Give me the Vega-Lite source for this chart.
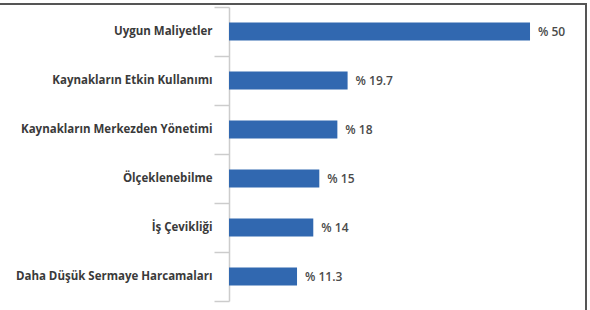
{
  "$schema": "https://vega.github.io/schema/vega-lite/v6.json",
  "width": 588,
  "height": 308,
  "autosize": "none",
  "padding": {"left": -2, "top": 4, "right": 4, "bottom": -2},
  "background": "white",
  "config": {
    "view": {"stroke": "#555555", "strokeWidth": 2},
    "font": "Open Sans"
  },
  "data": {
    "values": [
      {"cat": "Uygun Maliyetler", "v": 50, "txt": "% 50"},
      {"cat": "Kaynakların Etkin Kullanımı", "v": 19.7, "txt": "% 19.7"},
      {"cat": "Kaynakların Merkezden Yönetimi", "v": 18, "txt": "% 18"},
      {"cat": "Ölçeklenebilme", "v": 15, "txt": "% 15"},
      {"cat": "İş Çevikliği", "v": 14, "txt": "% 14"},
      {"cat": "Daha Düşük Sermaye Harcamaları", "v": 11.3, "txt": "% 11.3"}
    ]
  },
  "encoding": {
    "y": {
      "field": "cat",
      "type": "nominal",
      "sort": null,
      "scale": {"range": [3, 297], "paddingInner": 0, "paddingOuter": 0},
      "axis": {
        "title": null,
        "offset": -231,
        "tickBand": "extent",
        "tickSize": 15,
        "tickColor": "#cccccc",
        "tickWidth": 1.5,
        "domainColor": "#cccccc",
        "domainWidth": 1.5,
        "labelPadding": 2,
        "labelLimit": 0,
        "labelFontWeight": "bold",
        "labelFontSize": 11.5,
        "labelColor": "#3a3a3a",
        "labelFont": "Open Sans"
      }
    },
    "x": {
      "field": "v",
      "type": "quantitative",
      "scale": {"domain": [0, 59.3], "range": [231, 588], "nice": false, "zero": true},
      "axis": null
    }
  },
  "layer": [
    {"mark": {"type": "bar", "size": 18, "color": "#3168b0"}},
    {
      "mark": {"type": "text", "align": "left", "baseline": "middle", "dx": 8, "fontSize": 12, "color": "#4a4a4a", "font": "Open Sans", "fontWeight": 600},
      "encoding": {"text": {"field": "txt"}}
    }
  ]
}
